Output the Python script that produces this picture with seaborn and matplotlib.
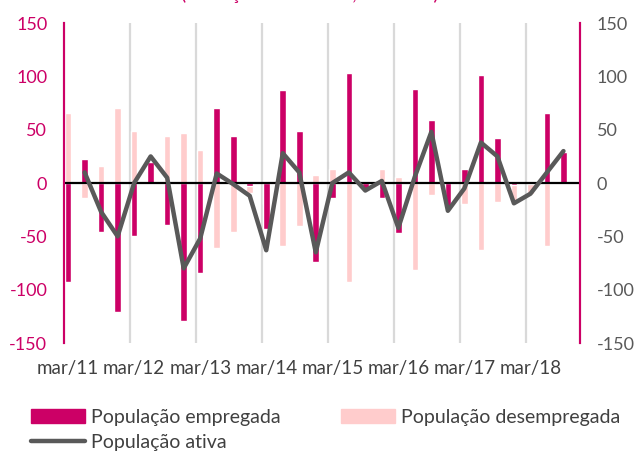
import numpy as np
import pandas as pd
import matplotlib.pyplot as plt
import seaborn as sns
from matplotlib.patches import Patch
from matplotlib.lines import Line2D

# variações trimestrais (milhares)
trimestres = [f"{m}/{a}" for a in range(11, 19) for m in ["mar", "jun", "set", "dez"]][:31]
empregada = [-93, 23, -46, -121, -50, 20, -39, -129, -84, 70, 44, -3, -43, 87, 49, -74,
             -14, 103, -7, -14, -47, 88, 59, -24, 13, 101, 42, -2, -1, 66, 29]
desempregada = [66, -14, 16, 70, 49, 5, 44, 47, 31, -61, -46, -9, -20, -59, -40, 8,
                13, -93, -1, 13, 6, -82, -11, -2, -20, -63, -18, -18, -10, -59, 1]
ativa = [np.nan, 10, -27, -50, 0, 25, 5, -80, -52, 9, -1, -12, -63, 28, 10, -65,
         0, 10, -7, 2, -42, 6, 48, -26, -5, 38, 25, -19, -10, 10, 30]
rotulos_x = ["mar/11", "mar/12", "mar/13", "mar/14", "mar/15", "mar/16", "mar/17", "mar/18"]
ticks_y = [-150, -100, -50, 0, 50, 100, 150]

rosa = "#CC0066"
rosa_claro = "#FFCCCC"
cinza = "#595959"

df = pd.DataFrame({"trimestre": trimestres, "empregada": empregada,
                   "desempregada": desempregada, "ativa": ativa})
df["pos"] = np.arange(len(df))

sns.set_style("white")
plt.rcParams["font.family"] = ["Lato", "DejaVu Sans"]

fig = plt.figure(figsize=(6.41, 4.53), dpi=100)
ax = fig.add_axes([0.0998, 0.2428, 0.805, 0.7062])

# linhas verticais de cada ano
for p in range(4, 31, 4):
    ax.axvline(p - 0.25, color="#D9D9D9", lw=1.6, zorder=0)

sns.barplot(data=df, x="trimestre", y="desempregada", color=rosa_claro, saturation=1,
            width=0.4, ax=ax, zorder=2)
sns.barplot(data=df, x="trimestre", y="empregada", color=rosa, saturation=1,
            width=0.4, ax=ax, zorder=3)
ax.axhline(0, color="black", lw=1.6, zorder=4)
sns.lineplot(data=df, x="pos", y="ativa", color=cinza, lw=3.2, ax=ax, zorder=5)

ax.set_xlim(-0.25, 31.0)
ax.set_ylim(-150, 150)
ax.set_yticks(ticks_y)
ax.set_yticklabels([str(t) for t in ticks_y])
ax.set_xticks(range(0, 31, 4))
ax.set_xticklabels(rotulos_x)
ax.set_xlabel("")
ax.set_ylabel("")
ax.tick_params(axis="x", length=0, pad=12, labelsize=13.5, colors="#404040")
ax.tick_params(axis="y", length=0, pad=12, labelsize=13, colors=rosa)

ax2 = ax.twinx()
ax2.set_ylim(-150, 150)
ax2.set_yticks(ticks_y)
ax2.set_yticklabels([str(t) for t in ticks_y])
ax2.tick_params(axis="y", length=0, pad=12, labelsize=13, colors=cinza)

for a in (ax, ax2):
    for s in ("top", "bottom"):
        a.spines[s].set_visible(False)
    a.spines["left"].set_color(rosa)
    a.spines["right"].set_color(rosa)
    a.spines["left"].set_linewidth(1.5)
    a.spines["right"].set_linewidth(1.5)

# título cortado no topo da imagem (só se vê a parte de baixo)
fig.text(0.484, 1.0, "(Variação em cadeia, milhares)", color=rosa, fontsize=14,
         ha="center", va="baseline")

handles = [Patch(color=rosa), Line2D([0], [0], color=cinza, lw=3.2), Patch(color=rosa_claro)]
labels = ["População empregada", "População ativa", "População desempregada"]
fig.legend(handles, labels, loc="upper left", bbox_to_anchor=(0.048, 0.098), ncol=2,
           frameon=False, fontsize=14, handlelength=2.8, handleheight=0.75,
           handletextpad=0.3, columnspacing=3.1, labelspacing=0.45,
           borderpad=0, borderaxespad=0, labelcolor="#404040")

fig.savefig("out.png", dpi=100)
